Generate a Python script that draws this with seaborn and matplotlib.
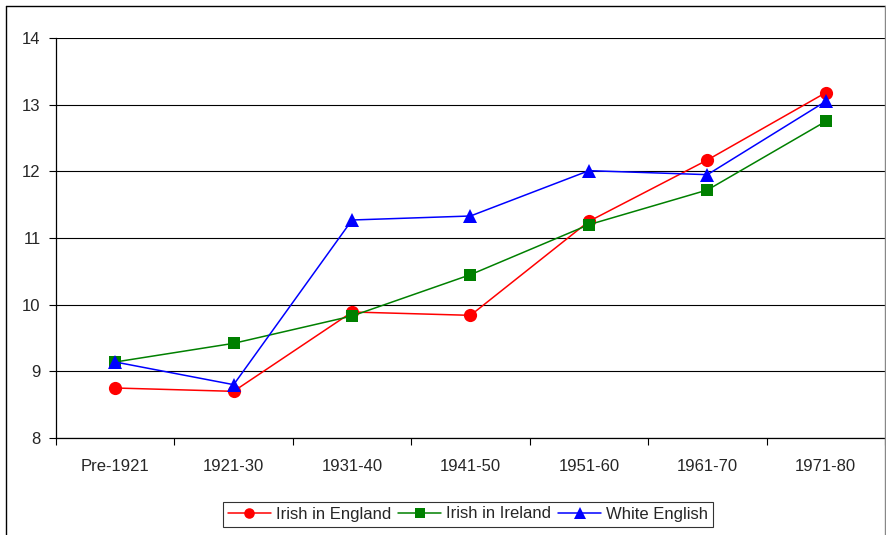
import seaborn as sns
import matplotlib.pyplot as plt
import pandas as pd
import numpy as np
from matplotlib.lines import Line2D

# Data
periods = ["Pre-1921", "1921-30", "1931-40", "1941-50", "1951-60", "1961-70", "1971-80"]
irish_in_england = [8.75, 8.70, 9.89, 9.84, 11.25, 12.17, 13.18]
irish_in_ireland = [9.14, 9.42, 9.83, 10.45, 11.20, 11.72, 12.75]
white_english = [9.14, 8.80, 11.27, 11.33, 12.01, 11.95, 13.05]

series_names = ["Irish in England", "Irish in Ireland", "White English"]
series_values = [irish_in_england, irish_in_ireland, white_english]

df = pd.DataFrame({
    "period": periods * 3,
    "x": list(range(len(periods))) * 3,
    "value": irish_in_england + irish_in_ireland + white_english,
    "series": [s for s in series_names for _ in periods],
})

sns.set_style("white")
plt.rcParams['font.family'] = ['Liberation Sans', 'DejaVu Sans']

fig = plt.figure(figsize=(8.86, 5.35), dpi=100)
ax = fig.add_axes([56 / 886, 97 / 535, 829 / 886, 400 / 535])

palette = {"Irish in England": "#ff0000", "Irish in Ireland": "#008000", "White English": "#0000ff"}
markers = {"Irish in England": "o", "Irish in Ireland": "s", "White English": "^"}
sizes = {"Irish in England": 9.5, "Irish in Ireland": 8.5, "White English": 10}

for name in series_names:
    sub = df[df["series"] == name]
    sns.lineplot(data=sub, x="x", y="value", ax=ax, color=palette[name],
                 marker=markers[name], markersize=sizes[name], markeredgewidth=0,
                 linewidth=1.1, label=name, legend=False)

ax.set_xlim(-0.5, len(periods) - 0.5)
ax.set_ylim(8, 14)
ax.set_yticks(np.arange(8, 15, 1))
ax.set_xticks(range(len(periods)))
ax.set_xticklabels(periods)
ax.set_xticks(np.arange(-0.5, len(periods), 1), minor=True)
ax.tick_params(axis="x", which="major", length=0, pad=15, labelsize=12)
ax.tick_params(axis="x", which="minor", length=5, width=0.8, direction="out", bottom=True, color="black")
ax.tick_params(axis="y", length=5, width=0.8, direction="out", left=True, color="black", labelsize=12, pad=6)
ax.set_xlabel("")
ax.set_ylabel("")

ax.yaxis.grid(True, color="black", linewidth=0.8)
ax.set_axisbelow(True)
for side in ["top", "right"]:
    ax.spines[side].set_visible(False)
for side in ["left", "bottom"]:
    ax.spines[side].set_color("black")
    ax.spines[side].set_linewidth(0.9)

handles = [Line2D([0], [0], color=palette[n], marker=markers[n], markersize=sizes[n] * 0.8,
                  markeredgewidth=0, linewidth=1.1) for n in series_names]
leg = fig.legend(handles, series_names, loc="center", bbox_to_anchor=(468 / 886, 21 / 535),
                 ncol=3, frameon=True, fancybox=False, fontsize=12, handlelength=2.6,
                 columnspacing=0.4, handletextpad=0.3, borderpad=0.3, borderaxespad=0)
leg.get_frame().set_edgecolor("black")
leg.get_frame().set_linewidth(0.8)

# outer chart border
fig.add_artist(Line2D([6 / 886, 6 / 886], [0, 529 / 535], color="black", linewidth=1, transform=fig.transFigure))
fig.add_artist(Line2D([6 / 886, 885 / 886], [529 / 535, 529 / 535], color="black", linewidth=1, transform=fig.transFigure))
fig.add_artist(Line2D([885 / 886, 885 / 886], [0, 529 / 535], color="#888888", linewidth=1, transform=fig.transFigure))

fig.savefig("out.png", dpi=100)
